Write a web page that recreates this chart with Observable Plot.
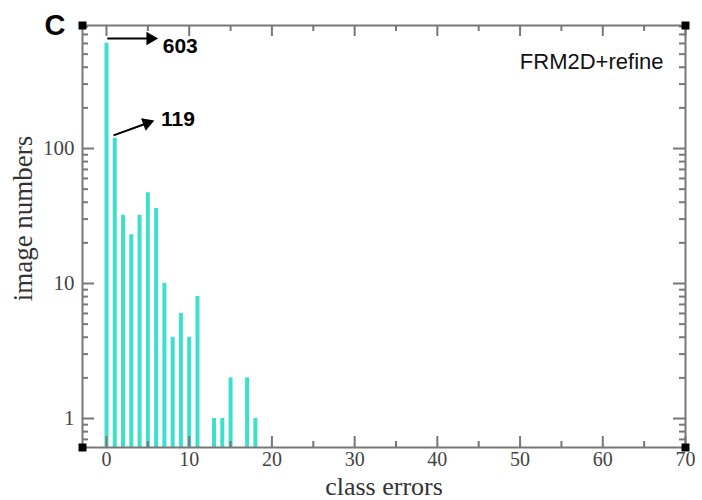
<!DOCTYPE html>
<html>
<head>
<meta charset="utf-8">
<script src="https://cdn.jsdelivr.net/npm/d3@7"></script>
<script src="https://cdn.jsdelivr.net/npm/@observablehq/plot@0.6"></script>
<style>
  html, body { margin: 0; padding: 0; background: #fff; }
</style>
</head>
<body>
<div id="chart"></div>
<script>
// Data
const classErrors = [0, 1, 2, 3, 4, 5, 6, 7, 8, 9, 10, 11, 13, 14, 15, 17, 18];
const imageNumbers = [603, 119, 32, 23, 32, 47, 36, 10, 4, 6, 4, 8, 1, 1, 2, 2, 1];

const xDomain = [-2.9, 70];
const yDomain = [0.61, 815];
const xMajorTicks = [0, 10, 20, 30, 40, 50, 60, 70];
const xMinorTicks = [5, 15, 25, 35, 45, 55, 65];
const yMajorTicks = [1, 10, 100];
const yMinorTicks = [0.7, 0.8, 0.9, 2, 3, 4, 5, 6, 7, 8, 9, 20, 30, 40, 50, 60, 70, 80, 90, 200, 300, 400, 500, 600, 700, 800];

const xLabel = "class errors";
const yLabel = "image numbers";
const panelLabel = "C";
const legendLabel = "FRM2D+refine";

// annotations (data space): arrow shaft start, head centre, head direction
const annotArrows = [
  {x1: 0.1, y1: 653, x2: 5.3, y2: 653, angle: 90},
  {x1: 0.85, y1: 125, x2: 4.9, y2: 154, angle: 70}
];
const annotTexts = [
  {x: 6.8, y: 570, text: "603"},
  {x: 6.6, y: 165, text: "119"}
];

const data = classErrors.map((c, i) => ({c, n: imageNumbers[i]}));
const corners = [
  {x: xDomain[0], y: yDomain[0]}, {x: xDomain[1], y: yDomain[0]},
  {x: xDomain[0], y: yDomain[1]}, {x: xDomain[1], y: yDomain[1]}
];

const W = 702, H = 500;
const mt = 25, mb = 53, ml = 82, mr = 17;
const plotH = H - mt - mb, plotW = W - ml - mr;
const tickCol = "#777";

const chart = Plot.plot({
  width: W,
  height: H,
  marginTop: mt,
  marginBottom: mb,
  marginLeft: ml,
  marginRight: mr,
  style: {fontFamily: "Liberation Serif", fontSize: "21px", background: "#fff", color: "#444"},
  x: {domain: xDomain, type: "linear"},
  y: {domain: yDomain, type: "log"},
  marks: [
    Plot.ruleX(data, {x: "c", y1: yDomain[0], y2: "n", stroke: "#3ee0cc", strokeWidth: 4}),
    // bottom ticks
    Plot.tickX(xMajorTicks, {x: d => d, insetTop: plotH - 11, stroke: tickCol, strokeWidth: 2}),
    Plot.tickX(xMinorTicks, {x: d => d, insetTop: plotH - 6, stroke: tickCol, strokeWidth: 2}),
    // top ticks
    Plot.tickX(xMajorTicks, {x: d => d, insetBottom: plotH - 11, stroke: tickCol, strokeWidth: 2}),
    Plot.tickX(xMinorTicks, {x: d => d, insetBottom: plotH - 6, stroke: tickCol, strokeWidth: 2}),
    // left ticks
    Plot.tickY(yMajorTicks, {y: d => d, insetRight: plotW - 12, stroke: tickCol, strokeWidth: 2}),
    Plot.tickY(yMinorTicks, {y: d => d, insetRight: plotW - 6, stroke: tickCol, strokeWidth: 2}),
    // right ticks
    Plot.tickY(yMajorTicks, {y: d => d, insetLeft: plotW - 12, stroke: tickCol, strokeWidth: 2}),
    Plot.tickY(yMinorTicks, {y: d => d, insetLeft: plotW - 6, stroke: tickCol, strokeWidth: 2}),
    Plot.frame({stroke: tickCol, strokeWidth: 2}),
    Plot.dot(corners, {x: "x", y: "y", symbol: "square", r: 4.5, fill: "#000"}),
    Plot.axisX({ticks: xMajorTicks, tickSize: 0, tickPadding: 4, label: null, tickFormat: d => String(d), fill: "#444", fontSize: 20}),
    Plot.axisY({ticks: yMajorTicks, tickSize: 0, tickPadding: 8, label: null, tickFormat: d => String(d), fill: "#444", fontSize: 21}),
    Plot.text([xLabel], {text: d => d, frameAnchor: "bottom", dy: 39, textAnchor: "middle", lineAnchor: "middle", fontSize: 26, fill: "#333", fontFamily: "Liberation Serif"}),
    Plot.text([yLabel], {text: d => d, frameAnchor: "left", rotate: -90, dx: -59, dy: -18, textAnchor: "middle", lineAnchor: "middle", fontSize: 27, fill: "#333", fontFamily: "Liberation Serif"}),
    Plot.text([panelLabel], {text: d => d, frameAnchor: "top-left", dx: -17, dy: 0, textAnchor: "end", lineAnchor: "middle", fontSize: 29, fontWeight: "bold", fill: "#000", fontFamily: "Liberation Sans"}),
    Plot.text([legendLabel], {text: d => d, frameAnchor: "top-right", dx: -22, dy: 36, textAnchor: "end", lineAnchor: "middle", fontSize: 22, fill: "#111", fontFamily: "Liberation Sans"}),
    Plot.link(annotArrows, {x1: "x1", y1: "y1", x2: "x2", y2: "y2", stroke: "#000", strokeWidth: 2}),
    Plot.dot(annotArrows, {x: "x2", y: "y2", symbol: "triangle", rotate: "angle", r: 5, fill: "#000"}),
    Plot.text(annotTexts, {x: "x", y: "y", text: "text", textAnchor: "start", fontSize: 21, fontWeight: "bold", fill: "#000", fontFamily: "Liberation Sans"})
  ]
});
document.getElementById("chart").appendChild(chart);
</script>
</body>
</html>
